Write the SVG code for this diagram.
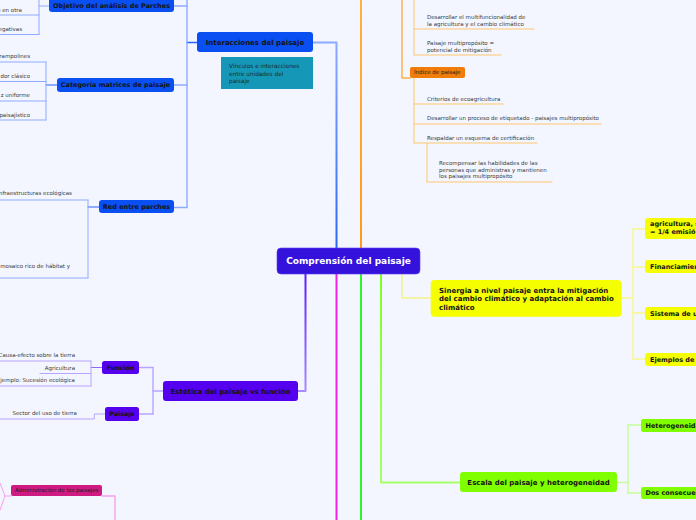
<svg xmlns="http://www.w3.org/2000/svg" width="696" height="520" viewBox="0 0 696 520">
<defs>
<linearGradient id="gBlue" gradientUnits="userSpaceOnUse" x1="0" y1="248" x2="0" y2="40"><stop offset="0" stop-color="#2a66f6"/><stop offset="1" stop-color="#8eaaff"/></linearGradient>
<linearGradient id="gPurple" gradientUnits="userSpaceOnUse" x1="0" y1="274" x2="0" y2="392"><stop offset="0" stop-color="#5a1cff"/><stop offset="1" stop-color="#a88cff"/></linearGradient>
<linearGradient id="gChart" gradientUnits="userSpaceOnUse" x1="0" y1="274" x2="0" y2="483"><stop offset="0" stop-color="#7cff22"/><stop offset="1" stop-color="#a6ff66"/></linearGradient>
<linearGradient id="gOrange" gradientUnits="userSpaceOnUse" x1="0" y1="248" x2="0" y2="0"><stop offset="0" stop-color="#ff9a1a"/><stop offset="1" stop-color="#ffb040"/></linearGradient>
</defs>
<style>
.bg{fill:#f3f6fe}
.c{fill:none;stroke-linecap:round;stroke-linejoin:round}
.w2{stroke-width:2}
.w15{stroke-width:1.4}
.w1{stroke-width:1}
.lb{stroke:#8eaaff}
.lbs{stroke:#2a62ff}
.lp{stroke:#b9a4ff}
.lps{stroke:#8b6bff}
.lo{stroke:#ffc56e}
.ly{stroke:#f8f88a}
.lg{stroke:#c6ff99}
.lm{stroke:#f5a0ee}
.t{font-family:"DejaVu Sans",Verdana,sans-serif}
.nb{font-weight:bold;fill:#141414}
.pl{font-size:5.5px;fill:#3a3a3a}
.blue{fill:#0a4ff2}
.pur{fill:#5500ee}
.yel{fill:#f5ff00}
.grn{fill:#80ff00}
</style>
<rect class="bg" x="0" y="0" width="696" height="520"/>

<g id="connectors">
<!-- main branches from center -->
<polyline class="c w2" stroke="url(#gBlue)" points="336.5,248 336.5,42.5 313,42.5"/>
<line class="c w2" stroke="url(#gOrange)" x1="361" y1="248" x2="361" y2="0"/>
<polyline class="c w2" stroke="url(#gPurple)" points="305.5,274 305.5,391 298,391"/>
<line class="c w2" stroke="#f020e6" x1="336.5" y1="274" x2="336.5" y2="520"/>
<line class="c w2" stroke="#2ef52e" x1="361" y1="274" x2="361" y2="520"/>
<polyline class="c w2" stroke="url(#gChart)" points="381,274 381,482.5 460,482.5"/>
<polyline class="c w1" stroke="#f2f050" points="402,274 402,298 431,298"/>

<!-- Interacciones -->
<line class="c w15 lbs" x1="197" y1="42.5" x2="187" y2="42.5"/>
<line class="c w15 lb" x1="187" y1="0" x2="187" y2="207.5"/>
<line class="c w15 lb" x1="174" y1="6" x2="187" y2="6"/>
<line class="c w15 lb" x1="174" y1="85" x2="187" y2="85"/>
<line class="c w15 lb" x1="174" y1="207.5" x2="187" y2="207.5"/>

<!-- Objetivo children -->
<polyline class="c w1 lb" points="49,6 39,6"/>
<line class="c w1 lb" x1="39" y1="0" x2="39" y2="34.5"/>
<line class="c w1 lb" x1="0" y1="15" x2="39" y2="15"/>
<line class="c w1 lb" x1="0" y1="34.5" x2="39" y2="34.5"/>

<!-- Categoria children -->
<line class="c w1 lbs" x1="57" y1="85" x2="46" y2="85"/>
<line class="c w1 lb" x1="46" y1="62" x2="46" y2="120"/>
<line class="c w1 lb" x1="0" y1="62" x2="46" y2="62"/>
<line class="c w1 lb" x1="0" y1="81.5" x2="46" y2="81.5"/>
<line class="c w1 lb" x1="0" y1="101" x2="46" y2="101"/>
<line class="c w1 lb" x1="0" y1="120" x2="46" y2="120"/>

<!-- Red entre parches children -->
<line class="c w1 lbs" x1="99" y1="207" x2="88" y2="207"/>
<line class="c w1 lb" x1="88" y1="200" x2="88" y2="278"/>
<line class="c w1 lb" x1="0" y1="200" x2="88" y2="200"/>
<line class="c w1 lb" x1="0" y1="278" x2="88" y2="278"/>

<!-- Estetica -->
<line class="c w15 lp" x1="163" y1="391" x2="153" y2="391"/>
<line class="c w15 lp" x1="153" y1="367.5" x2="153" y2="414"/>
<line class="c w15 lp" x1="139" y1="367.5" x2="153" y2="367.5"/>
<line class="c w15 lp" x1="139" y1="414" x2="153" y2="414"/>
<line class="c w1 lps" x1="102" y1="367.5" x2="91" y2="367.5"/>
<line class="c w1 lp" x1="91" y1="361" x2="91" y2="386"/>
<line class="c w1 lp" x1="0" y1="361" x2="91" y2="361"/>
<line class="c w1 lp" x1="40" y1="373.5" x2="91" y2="373.5"/>
<line class="c w1 lp" x1="0" y1="386" x2="91" y2="386"/>
<polyline class="c w1 lp" points="105,414 94.3,414 94.3,419 0,419"/>

<!-- Administracion -->
<polyline class="c w15 lm" points="102,496 115,496 115,520"/>
<polyline class="c w1 lm" points="0,483 5,496 0,510"/>
<line class="c w1 lm" x1="5" y1="496" x2="11" y2="496"/>

<!-- Orange -->
<polyline class="c w15" stroke="#ffad40" points="402,0 402,78 410,78"/>
<line class="c w1 lo" x1="414" y1="0" x2="414" y2="55"/>
<line class="c w1 lo" x1="414" y1="29" x2="534" y2="29"/>
<line class="c w1 lo" x1="414" y1="55" x2="501" y2="55"/>
<line class="c w1 lo" x1="414" y1="78" x2="414" y2="143"/>
<line class="c w1 lo" x1="414" y1="104" x2="503" y2="104"/>
<line class="c w1 lo" x1="414" y1="124" x2="601" y2="124"/>
<line class="c w1 lo" x1="414" y1="143" x2="537" y2="143"/>
<line class="c w1 lo" x1="427" y1="143" x2="427" y2="182"/>
<line class="c w1 lo" x1="427" y1="182" x2="552" y2="182"/>

<!-- Sinergia -->
<line class="c w15 ly" x1="622" y1="298" x2="633" y2="298"/>
<line class="c w15 ly" x1="633" y1="229" x2="633" y2="359"/>
<line class="c w15 ly" x1="633" y1="229" x2="645" y2="229"/>
<line class="c w15 ly" x1="633" y1="267" x2="645" y2="267"/>
<line class="c w15 ly" x1="633" y1="313" x2="645" y2="313"/>
<line class="c w15 ly" x1="633" y1="359" x2="645" y2="359"/>

<!-- Escala -->
<line class="c w15 lg" x1="617" y1="482.5" x2="628" y2="482.5"/>
<line class="c w15 lg" x1="628" y1="425" x2="628" y2="493"/>
<line class="c w15 lg" x1="628" y1="425" x2="641" y2="425"/>
<line class="c w15 lg" x1="628" y1="493" x2="641" y2="493"/>
</g>

<g id="central">
<rect x="277" y="248" width="143" height="26" rx="4" fill="#3512dc" stroke="#5a3cf0" stroke-width="0.6"/>
<text class="t" x="348.5" y="264.2" font-size="9" font-weight="bold" fill="#ffffff" text-anchor="middle">Comprensión del paisaje</text>
</g>

<g id="interacciones">
<rect class="blue" x="197" y="32" width="116" height="20" rx="3"/>
<text class="t nb" x="255" y="44.6" font-size="7" text-anchor="middle">Interacciones del paisaje</text>
</g>
<g id="nota-vinculos">
<rect x="221" y="57" width="92" height="32" fill="#1598b8"/>
<text class="t" font-size="5.8" fill="#1c2a30"><tspan x="229" y="68">Vínculos e interacciones</tspan><tspan x="229" y="75.5">entre unidades del</tspan><tspan x="229" y="83">paisaje</tspan></text>
</g>
<g id="objetivo">
<rect class="blue" x="49" y="-4" width="125" height="16" rx="3"/>
<text class="t nb" x="111.5" y="8.3" font-size="6.5" text-anchor="middle">Objetivo del análisis de Parches</text>
</g>
<g id="objetivo-hijos">
<text class="t pl" x="22" y="11.9" text-anchor="end">n en otra</text>
<text class="t pl" x="22" y="30.9" text-anchor="end">egativas</text>
</g>
<g id="categoria">
<rect class="blue" x="57" y="78" width="117" height="14" rx="3"/>
<text class="t nb" x="115.5" y="87.3" font-size="6.5" text-anchor="middle">Categoría matrices de paisaje</text>
</g>
<g id="categoria-hijos">
<text class="t pl" x="30" y="57.9" text-anchor="end">rampolines</text>
<text class="t pl" x="30" y="77.9" text-anchor="end">dor clásico</text>
<text class="t pl" x="30" y="96.9" text-anchor="end">z uniforme</text>
<text class="t pl" x="30" y="116.9" text-anchor="end">paisajístico</text>
</g>
<g id="red">
<rect class="blue" x="99" y="200" width="75" height="13" rx="3"/>
<text class="t nb" x="136.5" y="208.8" font-size="6.5" text-anchor="middle">Red entre parches</text>
</g>
<g id="red-hijos">
<text class="t pl" x="72" y="194.9" text-anchor="end">nfraestructuras ecológicas</text>
<text class="t pl" x="70" y="267.9" text-anchor="end">mosaico rico de hábitat y</text>
</g>

<g id="estetica">
<rect class="pur" x="163" y="381" width="135" height="20" rx="3"/>
<text class="t nb" x="230.5" y="393.5" font-size="7" text-anchor="middle">Estética del paisaje vs función</text>
</g>
<g id="funcion">
<rect class="pur" x="102" y="361" width="37" height="13" rx="2.5"/>
<text class="t nb" x="120.5" y="369.7" font-size="6.3" text-anchor="middle">Función</text>
</g>
<g id="funcion-hijos">
<text class="t pl" x="75" y="356.9" text-anchor="end">Causa-efecto sobre la tierra</text>
<text class="t pl" x="75" y="369.9" text-anchor="end">Agricultura</text>
<text class="t pl" x="75" y="381.9" text-anchor="end">jemplo: Sucesión ecológica</text>
</g>
<g id="paisaje">
<rect class="pur" x="105" y="407" width="34" height="14" rx="2.5"/>
<text class="t nb" x="122" y="416.2" font-size="6.3" text-anchor="middle">Paisaje</text>
</g>
<g id="paisaje-hijos">
<text class="t pl" x="77" y="414.9" text-anchor="end">Sector del uso de tierra</text>
</g>

<g id="administracion">
<rect x="11" y="485" width="91" height="11" rx="2" fill="#cf1a82"/>
<text class="t" x="15" y="492.4" font-size="5.5" fill="#222">Administración de los paisajes</text>
</g>

<g id="indice">
<rect x="410" y="67" width="55" height="11" rx="2" fill="#f07c0a"/>
<text class="t" x="414" y="74.4" font-size="5.5" fill="#222">Índice de paisaje</text>
</g>
<g id="orange-hijos">
<text class="t pl"><tspan x="427" y="18.9">Desarrollar el multifuncionalidad de</tspan><tspan x="427" y="26.4">la agricultura y el cambio climático</tspan></text>
<text class="t pl"><tspan x="427" y="45.2">Paisaje multipropósito =</tspan><tspan x="427" y="51.9">potencial de mitigación</tspan></text>
<text class="t pl" x="427" y="100.9">Criterios de ecoagricultura</text>
<text class="t pl" x="427" y="119.9">Desarrollar un proceso de etiquetado - paisajes multipropósito</text>
<text class="t pl" x="427" y="139.9">Respaldar un esquema de certificación</text>
<text class="t pl"><tspan x="439" y="164.9">Recompensar las habilidades de las</tspan><tspan x="439" y="171.6">personas que administras y mantienen</tspan><tspan x="439" y="178.3">los paisajes multipropósito</tspan></text>
</g>

<g id="sinergia">
<rect class="yel" x="430.7" y="280" width="191" height="36.7" rx="4"/>
<text class="t nb" font-size="7"><tspan x="439" y="292.9">Sinergia a nivel paisaje entra la mitigación</tspan><tspan x="439" y="301.2">del cambio climático y adaptación al cambio</tspan><tspan x="439" y="309.5">climático</tspan></text>
</g>
<g id="agricultura">
<rect class="yel" x="645" y="218" width="70" height="21" rx="3"/>
<text class="t nb" font-size="6.5"><tspan x="650" y="226.3">agricultura, s</tspan><tspan x="650" y="234.3">= 1/4 emisió</tspan></text>
</g>
<g id="financiamiento">
<rect class="yel" x="645" y="260" width="70" height="13" rx="3"/>
<text class="t nb" x="650" y="268.8" font-size="6.5">Financiamien</text>
</g>
<g id="sistema">
<rect class="yel" x="645" y="307" width="70" height="13" rx="3"/>
<text class="t nb" x="650" y="315.8" font-size="6.5">Sistema de u</text>
</g>
<g id="ejemplos">
<rect class="yel" x="645" y="353" width="70" height="13" rx="3"/>
<text class="t nb" x="650" y="361.8" font-size="6.5">Ejemplos de</text>
</g>

<g id="escala">
<rect class="grn" x="460" y="472" width="157" height="20" rx="3"/>
<text class="t nb" x="538.5" y="484.5" font-size="7" text-anchor="middle">Escala del paisaje y heterogeneidad</text>
</g>
<g id="heterogeneidad">
<rect class="grn" x="641" y="419" width="70" height="13" rx="2.5"/>
<text class="t nb" x="645.5" y="427.8" font-size="6.5">Heterogeneida</text>
</g>
<g id="consecuencias">
<rect class="grn" x="641" y="487" width="70" height="12" rx="2.5"/>
<text class="t nb" x="645.5" y="495.3" font-size="6.5">Dos consecuen</text>
</g>
</svg>
